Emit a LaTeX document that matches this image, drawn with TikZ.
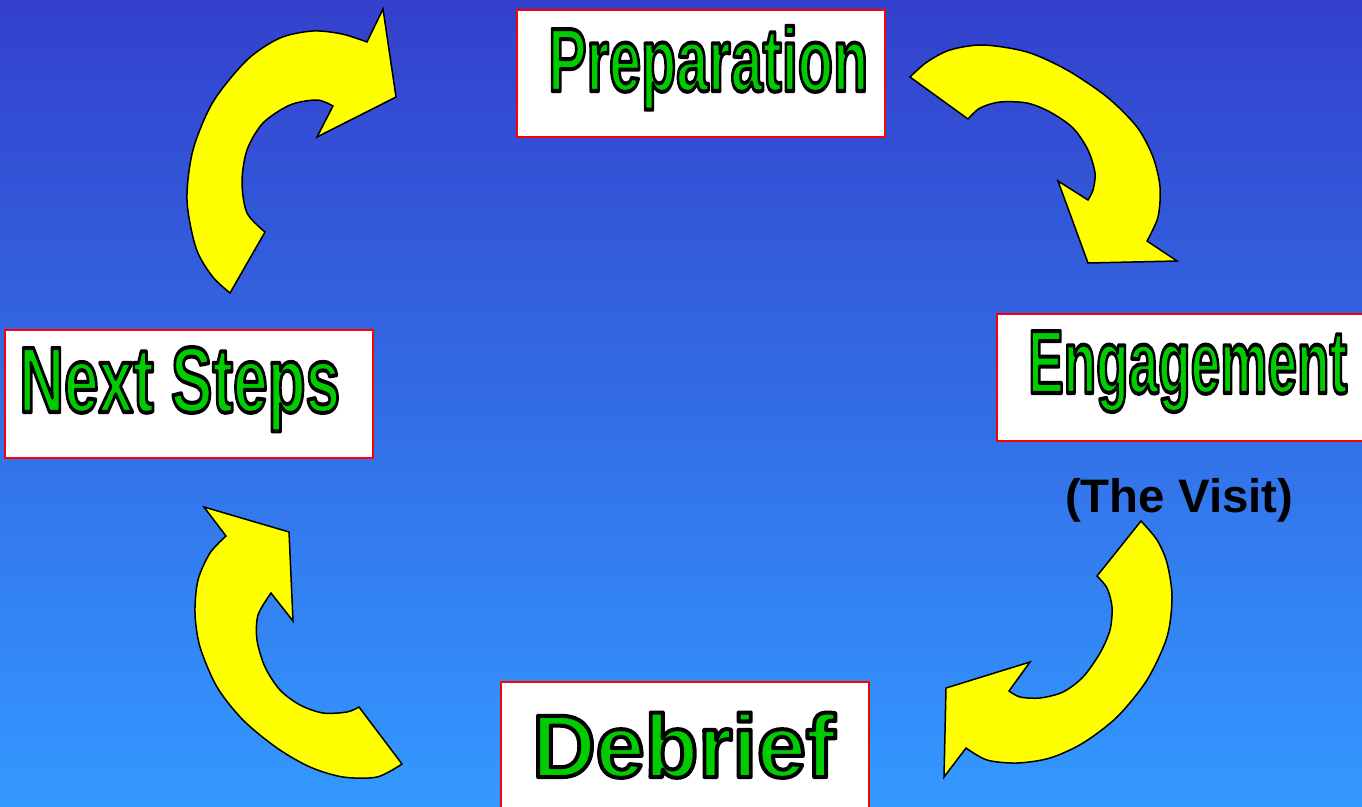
\documentclass[tikz,border=0pt]{standalone}
\usepackage{fontspec}
\setmainfont{Liberation Sans}
\usepackage{graphicx}
\definecolor{topblue}{RGB}{51,64,204}
\definecolor{botblue}{RGB}{51,153,255}
\definecolor{boxred}{RGB}{255,0,0}
\definecolor{labelgreen}{RGB}{0,204,0}
\definecolor{arrowyellow}{RGB}{255,255,0}
\newcommand\strokeon{\special{pdf:literal direct 2 Tr 4 w 1 j 0 0 0 RG}}
\newcommand\strokeoff{\special{pdf:literal direct 0 Tr}}
\newcommand\mylbl[3]{\resizebox{#1}{\height}{\fontsize{#2}{#2}\selectfont\bfseries\strokeon #3\strokeoff}}
\begin{document}
\begin{tikzpicture}[x=1pt,y=-1pt,
  box/.style={draw=boxred,line width=2pt,fill=white,inner sep=0pt,anchor=north west},
  arrowshape/.style={fill=arrowyellow,draw=black,line width=1.5pt,line join=miter},
  lbl/.style={inner sep=0pt,anchor=base west,text=labelgreen}]
\useasboundingbox (0,0) rectangle (1362,806);
\clip (0,0) rectangle (1362,806);
\shade[top color=topblue,bottom color=botblue] (0,0) rectangle (1362,806);

% boxes
\node[box,minimum width=368pt,minimum height=127pt] (prepbox) at (516,9) {};
\node[box,minimum width=368pt,minimum height=128pt] (nextbox) at (4,329) {};
\node[box,minimum width=372pt,minimum height=127pt] (engbox) at (996,313) {};
\node[box,minimum width=368pt,minimum height=130pt] (debbox) at (500,681) {};

% labels
\node[lbl] (prep) at (548,91) {\mylbl{320pt}{90}{Preparation}};
\node[lbl] (next) at (19,412) {\mylbl{321pt}{93}{Next Steps}};
\node[lbl] (eng) at (1028,393) {\mylbl{319pt}{90}{Engagement}};
\node[lbl] (deb) at (532,777) {\mylbl{303pt}{89}{Debrief}};
\node[inner sep=0pt,anchor=base west,text=black] (visit) at (1065,512)
  {\resizebox{228pt}{\height}{\fontsize{47}{47}\selectfont\bfseries (The Visit)}};

% arrow: Next Steps -> Preparation
\draw[arrowshape] (230,293) -- (265,232)
  -- plot[smooth] coordinates {(265,232) (247,213) (242,182) (247,150) (263,123) (290,105) (317,100) (333,106)}
  -- (317,137) -- (396,97) -- (383,9) -- (367,42)
  -- plot[smooth] coordinates {(367,42) (342,34) (313,31) (280,38) (247,60) (213,102) (193,150) (187,200) (196,248) (212,276) (230,293)}
  -- cycle;

% arrow: Preparation -> Engagement
\draw[arrowshape] (910,77) -- (968,119)
  -- plot[smooth] coordinates {(968,119) (980,108) (1000,102) (1027,103) (1050,112) (1073,128) (1088,150) (1095,173) (1093,190) (1088,200)}
  -- (1058,181) -- (1088,263) -- (1177,261) -- (1147,241)
  -- plot[smooth] coordinates {(1147,241) (1158,217) (1160,187) (1153,157) (1137,127) (1107,97) (1067,70) (1027,52) (983,45) (950,50) (927,62) (910,77)}
  -- cycle;

% arrow: Engagement -> Debrief
\draw[arrowshape] (1141,521) -- (1097,576)
  -- plot[smooth] coordinates {(1097,576) (1107,588) (1112,607) (1110,630) (1100,653) (1083,677) (1063,692) (1040,698) (1020,697) (1009,691)}
  -- (1030,662) -- (946,688) -- (944,777) -- (966,748)
  -- plot[smooth] coordinates {(966,748) (987,760) (1017,763) (1050,758) (1083,743) (1117,717) (1147,680) (1167,637) (1172,597) (1167,563) (1157,540) (1141,521)}
  -- cycle;

% arrow: Debrief -> Next Steps
\draw[arrowshape] (402,764) -- (359,707)
  -- plot[smooth] coordinates {(359,707) (347,712) (323,713) (300,705) (280,690) (265,667) (257,640) (258,615) (271,593)}
  -- (293,621) -- (289,532) -- (204,507) -- (226,536)
  -- plot[smooth] coordinates {(226,536) (210,553) (198,580) (195,613) (200,647) (217,687) (243,720) (277,748) (310,767) (343,777) (377,777) (402,764)}
  -- cycle;
\end{tikzpicture}
\end{document}
